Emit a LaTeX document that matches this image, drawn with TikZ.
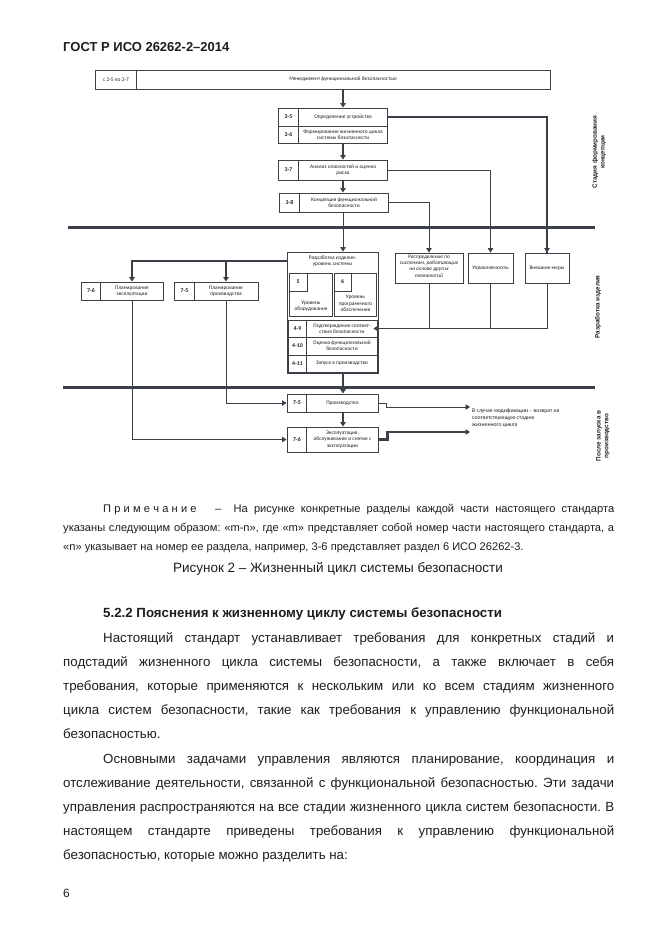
\documentclass[tikz,border=0pt]{standalone}
\usepackage{fontspec}
\setmainfont{Liberation Sans}
\newfontfamily\dgfont{Carlito}
\usetikzlibrary{arrows.meta}
\definecolor{ln}{HTML}{3B4049}
\definecolor{tx}{HTML}{1E1E1E}
\newcommand\lsp{\kern3.2pt}
\frenchspacing
\tikzset{
  box/.style={draw=ln,line width=0.9pt,inner sep=0pt},
  divln/.style={draw=ln,line width=0.9pt},
  dtext/.style={font=\dgfont\fontsize{5.4}{6.3}\selectfont,align=center,inner sep=0pt,text=tx},
  ditext/.style={font=\dgfont\itshape\fontsize{5.4}{6.3}\selectfont,align=center,inner sep=0pt,text=tx},
  dnum/.style={font=\dgfont\bfseries\fontsize{5.8}{7}\selectfont,inner sep=0pt,text=tx},
  side/.style={font=\bfseries\fontsize{6.3}{7.8}\selectfont,rotate=90,align=center,inner sep=0pt,text=tx},
  thinln/.style={draw=ln,line width=0.8pt},
  medln/.style={draw=ln,line width=1.5pt},
  thickln/.style={draw=ln,line width=2.3pt},
  arr/.style={-{Triangle[length=4.5pt,width=5.5pt]}},
  sepln/.style={draw=ln,line width=3pt},
  body/.style={anchor=base west,inner sep=0pt,font=\fontsize{13.3}{16}\selectfont,text=tx},
  note/.style={anchor=base west,inner sep=0pt,font=\fontsize{11.1}{14}\selectfont,text=tx}
}
\begin{document}
\begin{tikzpicture}[x=1pt,y=-1pt]
\useasboundingbox[fill=white] (0,0) rectangle (661,935);

% header
\node[anchor=base west,inner sep=0pt,font=\bfseries\fontsize{13}{15}\selectfont,text=tx] (hdr) at (63,51) {ГОСТ Р ИСО 26262-2–2014};

% top box
\node[box,minimum width=455pt,minimum height=19pt] (tb) at (322.5,79.5) {};
\draw[divln] (tb.north west) ++(42,0) -- ++(0,19);
\node[dtext] (tbn) at (116,79.5) {с 2-5 по 2-7};
\node[dtext] (tbt) at (343,79.5) {Менеджмент функциональной безопасностью};

% 3-5 / 3-6
\node[box,minimum width=109pt,minimum height=18pt] (b35) at (332.5,117) {};
\node[box,minimum width=109pt,minimum height=17pt] (b36) at (332.5,134.5) {};
\draw[divln] (b35.north west) ++(21,0) -- ++(0,35);
\node[dnum] (n35) at (288.5,117) {3-5};
\node[dnum] (n36) at (288.5,134.5) {3-6};
\node[dtext] (t35) at (343,117) {Определение устройства};
\node[dtext] (t36) at (343,134.5) {Формирование жизненного цикла\\системы безопасности};

% 3-7
\node[box,minimum width=109pt,minimum height=20pt] (b37) at (332.5,170) {};
\draw[divln] (b37.north west) ++(21,0) -- ++(0,20);
\node[dnum] (n37) at (288.5,170) {3-7};
\node[dtext] (t37) at (343,170) {Анализ опасностей и оценка\\риска};

% 3-8
\node[box,minimum width=109pt,minimum height=19pt] (b38) at (333.5,202.5) {};
\draw[divln] (b38.north west) ++(21,0) -- ++(0,19);
\node[dnum] (n38) at (289.5,202.5) {3-8};
\node[dtext] (t38) at (344,202.5) {Концепция функциональной\\безопасности};

% separators
\draw[sepln] (68,227) coordinate (s1a) -- (595,227) coordinate (s1b);
\draw[sepln] (63,387) coordinate (s2a) -- (595,387) coordinate (s2b);

% side labels
\node[side] (lab1) at (599,152) {Стадия формирования\\концепции};
\node[side] (lab2) at (598,307) {Разработка изделия};
\node[side] (lab3) at (603,436) {После запуска в\\производство};

% development box
\node[box,minimum width=91pt,minimum height=121pt] (dev) at (332.5,312.5) {};
\node[dtext] (dtitle) at (332.5,261) {Разработка изделия:\\уровень системы};
\node[box,minimum width=43pt,minimum height=43pt] (b5) at (310.5,294.5) {};
\node[box,minimum width=18pt,minimum height=18pt] (b5n) at (298,282) {};
\node[dnum] (n5) at (298,282) {5};
\node[dtext] (t5) at (311,306.5) {Уровень\\оборудования};
\node[box,minimum width=42pt,minimum height=43pt] (b6) at (355,294.5) {};
\node[box,minimum width=17pt,minimum height=18pt] (b6n) at (342.5,282) {};
\node[dnum] (n6) at (342.5,282) {6};
\node[dtext] (t6) at (355.5,303.5) {Уровень\\программного\\обеспечения};
\node[box,minimum width=89pt,minimum height=17pt] (r49) at (332.5,328.5) {};
\node[box,minimum width=89pt,minimum height=18pt] (r410) at (332.5,346) {};
\node[box,minimum width=89pt,minimum height=17pt] (r411) at (332.5,363.5) {};
\draw[divln] (r49.north west) ++(19,0) -- ++(0,52);
\node[dnum] (n49) at (297.5,328.5) {4-9};
\node[dnum] (n410) at (297.5,346) {4-10};
\node[dnum] (n411) at (297.5,363.5) {4-11};
\node[dtext] (t49) at (342,328.5) {Подтверждение соответ-\\ствия безопасности};
\node[dtext] (t410) at (342,346) {Оценка функциональной\\безопасности};
\node[dtext] (t411) at (342,363.5) {Запуск в производство};

% right boxes
\node[box,minimum width=68pt,minimum height=30pt] (dist) at (429,268) {};
\node[ditext] (tdist) at (429,266) {Распределение по\\системам, работающих\\на основе других\\технологий};
\node[box,minimum width=45pt,minimum height=30pt] (ctrl) at (490.5,268) {};
\node[ditext] (tctrl) at (490.5,268) {Управляемость};
\node[box,minimum width=44pt,minimum height=30pt] (ext) at (547,268) {};
\node[dtext] (text) at (547,268) {Внешние меры};

% planning boxes
\node[box,minimum width=82pt,minimum height=18pt] (p76) at (122,291) {};
\draw[divln] (p76.north west) ++(20,0) -- ++(0,18);
\node[dnum] (np76) at (91,291) {7-6};
\node[dtext] (tp76) at (132,291) {Планирование\\эксплуатации};
\node[box,minimum width=84pt,minimum height=18pt] (p75) at (216,291) {};
\draw[divln] (p75.north west) ++(21,0) -- ++(0,18);
\node[dnum] (np75) at (184.5,291) {7-5};
\node[dtext] (tp75) at (226,291) {Планирование\\производства};

% production / operation
\node[box,minimum width=91pt,minimum height=18pt] (prod) at (332.5,403) {};
\draw[divln] (prod.north west) ++(20,0) -- ++(0,18);
\node[dnum] (nprod) at (297,403) {7-5};
\node[dtext] (tprod) at (342.5,403) {Производство};
\node[box,minimum width=91pt,minimum height=25pt] (oper) at (332.5,439.5) {};
\draw[divln] (oper.north west) ++(20,0) -- ++(0,25);
\node[dnum] (noper) at (297,439.5) {7-6};
\node[dtext] (toper) at (342.5,439.5) {Эксплуатация,\\обслуживание и снятие с\\эксплуатации};

\node[anchor=west,align=left,inner sep=0pt,font=\dgfont\fontsize{5.7}{7.2}\selectfont,text=tx] (ret) at (472,418) {В случае модификации – возврат на\\соответствующую стадию\\жизненного цикла};
\coordinate (ret1) at (470,407);
\coordinate (ret2) at (470,432);

% connectors
\draw[thickln,arr] (tb.south -| t35) -- (b35.north -| t35);
\draw[thickln] (b35.east) -| (ext.north);
\draw[thickln,arr] (ext.north |- 0,240) -- (ext.north);
\draw[thickln,arr] (b36.south -| t35) -- (b37.north -| t35);
\draw[thinln,arr] (b37.east) -| (ctrl.north);
\draw[medln,arr] (b37.south -| t35) -- (b38.north -| t35);
\draw[thinln,arr] (b38.east) -| (dist.north);
\draw[thinln,arr] (b38.south -| t35) -- (dev.north -| t35);
\draw[thickln,arr] (dev.west |- dtitle) -| (tp76 |- p76.north);
\draw[thickln,arr] (tp75 |- dtitle) -- (tp75 |- p75.north);
\draw[thinln,arr] (tp76 |- p76.south) |- (oper.west);
\draw[thinln,arr] (tp75 |- p75.south) |- (prod.west);
\draw[thinln] (dist.south) -- (dist.south |- r49.east);
\draw[thinln] (ctrl.south) -- (ctrl.south |- r49.east);
\draw[thinln,arr,shorten >=-4pt] (ext.south) |- (r49.east);
\draw[medln,arr] (dev.south -| t35) -- (prod.north -| t35);
\draw[medln,arr] (prod.south -| t35) -- (oper.north -| t35);
\draw[thinln,arr] (prod.east) -- ++(8,0) |- (ret1);
\draw[thickln,arr] (oper.east) -- ++(9,0) |- (ret2);

% note
\node[note] (nt1) at (103,512) {\makebox[511pt][s]{П\lsp р\lsp и\lsp м\lsp е\lsp ч\lsp а\lsp н\lsp и\lsp е \ \ – \ На рисунке конкретные разделы каждой части настоящего стандарта}};
\node[note] (nt2) at (63,531) {\makebox[551pt][s]{указаны следующим образом: «m-n», где «m» представляет собой номер части настоящего стандарта, а}};
\node[note] (nt3) at (63,550) {«n» указывает на номер ее раздела, например, 3-6 представляет раздел 6 ИСО 26262-3.};
\node[anchor=base,inner sep=0pt,font=\fontsize{13.5}{16}\selectfont,text=tx] (cap) at (338,572) {Рисунок 2 – Жизненный цикл системы безопасности};

% section
\node[body,font=\bfseries\fontsize{13.3}{16}\selectfont] (sec) at (103,617) {5.2.2 Пояснения к жизненному циклу системы безопасности};
\node[body] (a1) at (103,642) {\makebox[511pt][s]{Настоящий стандарт устанавливает требования для конкретных стадий и}};
\node[body] (a2) at (63,666) {\makebox[551pt][s]{подстадий жизненного цикла системы безопасности, а также включает в себя}};
\node[body] (a3) at (63,690) {\makebox[551pt][s]{требования, которые применяются к нескольким или ко всем стадиям жизненного}};
\node[body] (a4) at (63,714) {\makebox[551pt][s]{цикла систем безопасности, такие как требования к управлению функциональной}};
\node[body] (a5) at (63,738) {безопасностью.};
\node[body] (c1) at (103,763) {\makebox[511pt][s]{Основными задачами управления являются планирование, координация и}};
\node[body] (c2) at (63,787) {\makebox[551pt][s]{отслеживание деятельности, связанной с функциональной безопасностью. Эти задачи}};
\node[body] (c3) at (63,811) {\makebox[551pt][s]{управления распространяются на все стадии жизненного цикла систем безопасности. В}};
\node[body] (c4) at (63,835) {\makebox[551pt][s]{настоящем стандарте приведены требования к управлению функциональной}};
\node[body] (c5) at (63,859) {безопасностью, которые можно разделить на:};
\node[body,font=\fontsize{12}{14}\selectfont] (pg) at (63,897) {6};
\end{tikzpicture}
\end{document}
